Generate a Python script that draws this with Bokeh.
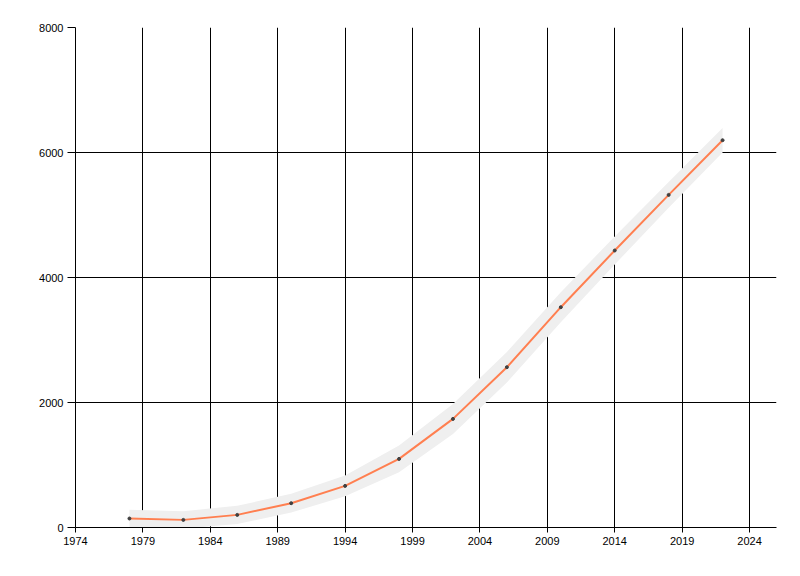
from bokeh.plotting import figure
from bokeh.models import ColumnDataSource, FixedTicker, Range1d
from bokeh.embed import file_html
from bokeh.resources import INLINE

# data
years = [1978, 1982, 1986, 1990, 1994, 1998, 2002, 2006, 2010, 2014, 2018, 2022]
values = [144, 122, 202, 389, 666, 1098, 1738, 2565, 3525, 4432, 5322, 6197]
# half height of the grey band around the line
band = [140, 140, 145, 150, 165, 215, 240, 245, 240, 225, 205, 197]

x_ticks = [1974, 1979, 1984, 1989, 1994, 1999, 2004, 2009, 2014, 2019, 2024]
y_ticks = [0, 2000, 4000, 6000, 8000]

src = ColumnDataSource(data=dict(
    year=years,
    value=values,
    upper=[v + b for v, b in zip(values, band)],
    lower=[v - b for v, b in zip(values, band)],
))

p = figure(width=792, height=568, output_backend="svg", toolbar_location=None,
           x_range=Range1d(1974, 2026), y_range=Range1d(0, 8000),
           min_border_left=75, min_border_right=16, min_border_top=27, min_border_bottom=41)
p.outline_line_color = None
p.background_fill_color = "white"

# grey band, then the line and the points
p.varea(x="year", y1="lower", y2="upper", source=src, fill_color="#efefef", fill_alpha=1)
p.line(x="year", y="value", source=src, line_color="#ff7f50", line_width=2)
p.scatter(x="year", y="value", source=src, size=3, color="#404040")

# axes
p.xaxis.ticker = FixedTicker(ticks=x_ticks)
p.yaxis.ticker = FixedTicker(ticks=y_ticks)
for ax in (p.xaxis, p.yaxis):
    ax.axis_line_color = "black"
    ax.major_tick_line_color = "black"
    ax.minor_tick_line_color = None
    ax.major_tick_in = 0
    ax.major_label_text_font = "Liberation Sans"
    ax.major_label_text_font_size = "11px"
    ax.major_label_text_color = "black"
    ax.major_label_standoff = 4
p.xaxis.major_tick_out = 5
p.yaxis.major_tick_out = 8

# black grid
for g in (p.xgrid, p.ygrid):
    g.grid_line_color = "black"
    g.grid_line_width = 1
    g.grid_line_alpha = 1

open("out.html", "w").write(file_html(p, INLINE))
